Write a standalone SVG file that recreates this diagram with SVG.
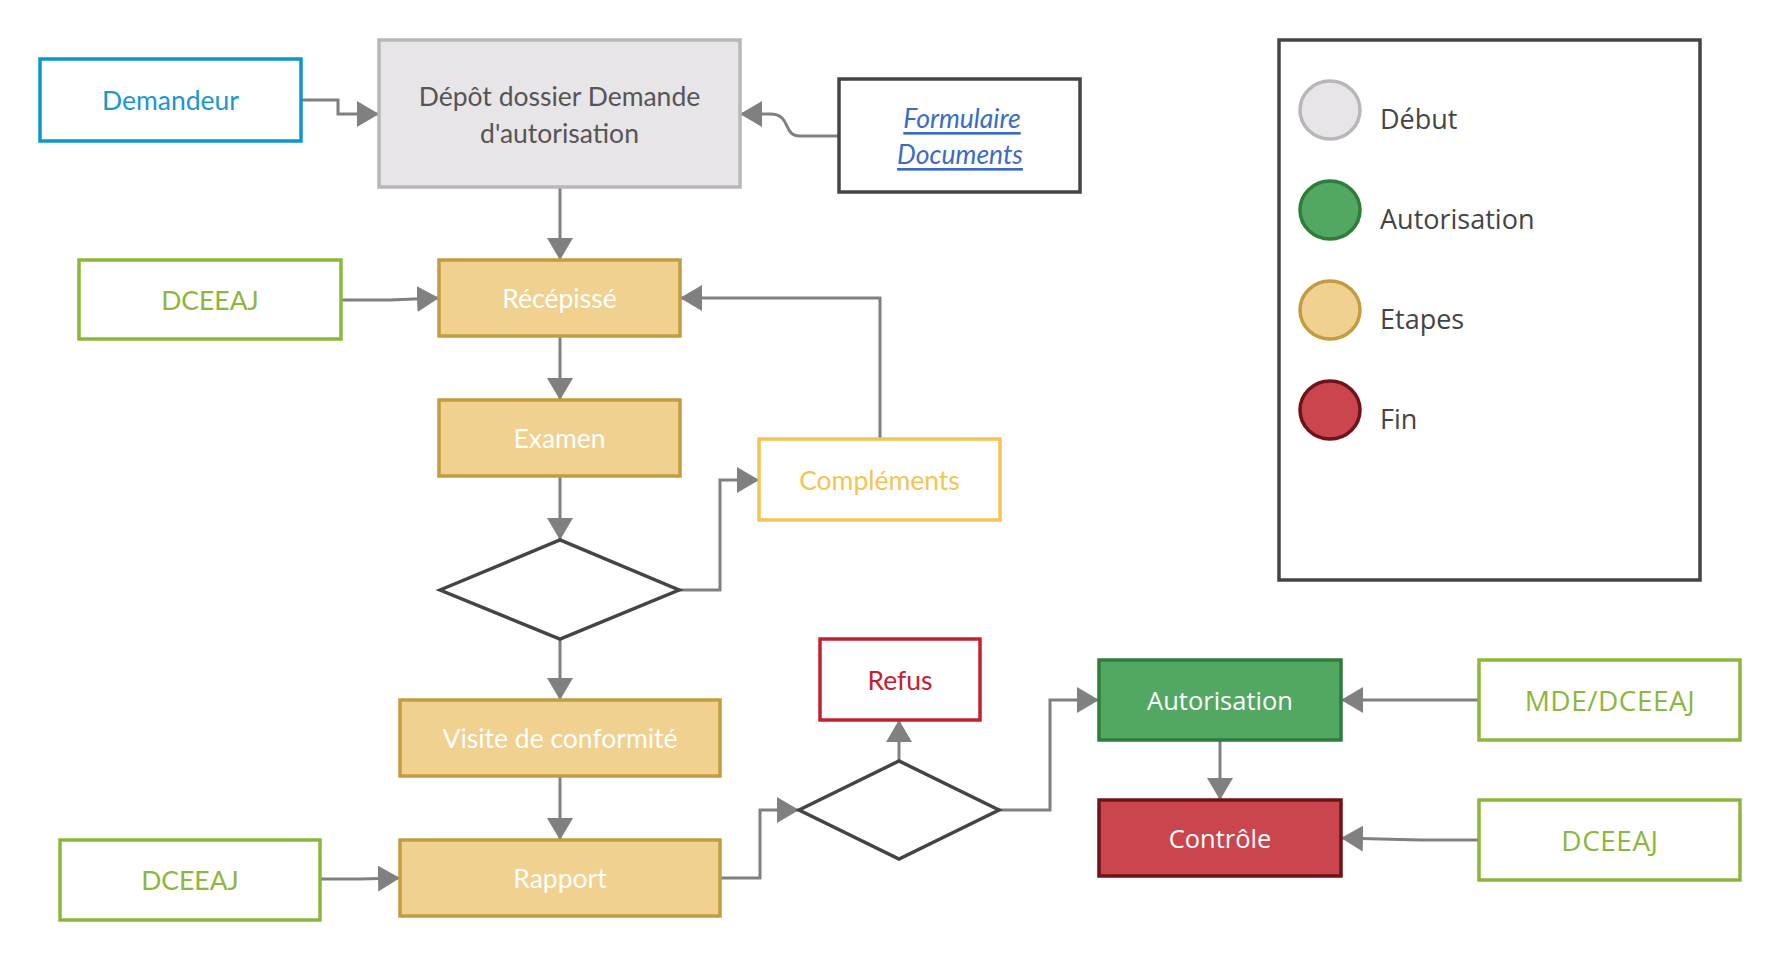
<svg xmlns="http://www.w3.org/2000/svg" width="1780" height="960" viewBox="0 0 1780 960">
<defs>
<marker id="arr" markerUnits="userSpaceOnUse" markerWidth="24" markerHeight="26" refX="22" refY="13" orient="auto">
<path d="M0,0 L22,13 L0,26 Z" fill="#808080"/>
</marker>
<style>
.c{fill:none;stroke:#808080;stroke-width:3;marker-end:url(#arr)}
.t{font-family:Lato,"Liberation Sans",sans-serif;font-size:26.5px;text-anchor:middle;dominant-baseline:central}
.o{font-family:"Open Sans","Liberation Sans",sans-serif;font-size:25.5px;text-anchor:middle;dominant-baseline:central}
.w{font-family:"Open Sans","Liberation Sans",sans-serif;font-size:28px;letter-spacing:0.5px;text-anchor:middle;dominant-baseline:central}
.step{fill:#f0d18f;stroke:#c39c42;stroke-width:3.5}
.green{fill:#fff;stroke:#8db63c;stroke-width:3.5}
.gt{fill:#8db63c}
.wt{fill:#fff}
.lg{font-family:"Open Sans","Liberation Sans",sans-serif;font-size:27px;fill:#444;dominant-baseline:central}
</style>
</defs>
<rect width="1780" height="960" fill="#fff"/>

<g id="connectors">
<path class="c" d="M301,100 H338 V114 H379"/>
<path class="c" d="M839,136 H800 C782,136 792,114 770,114 H740"/>
<path class="c" d="M560,187 V260"/>
<path class="c" d="M341,300 H390 L439,298"/>
<path class="c" d="M880,439 V298 H680"/>
<path class="c" d="M560,336 V400"/>
<path class="c" d="M560,476 V540"/>
<path class="c" d="M679,590 H720 V480 H759"/>
<path class="c" d="M560,639 V700"/>
<path class="c" d="M560,776 V840"/>
<path class="c" d="M320,879 H360 L400,878"/>
<path class="c" d="M720,878 H760 V810 H799"/>
<path class="c" d="M899,761 V720"/>
<path class="c" d="M999,810 H1050 V700 H1099"/>
<path class="c" d="M1479,700 H1341"/>
<path class="c" d="M1220,740 V800"/>
<path class="c" d="M1479,840 H1420 L1341,838"/>
</g>

<g id="demandeur">
<rect x="40" y="59" width="261" height="82" fill="#fff" stroke="#0e95d0" stroke-width="3.5"/>
<text class="t" x="170.5" y="100" fill="#1a96d0">Demandeur</text>
</g>

<g id="depot">
<rect x="379" y="40" width="361" height="147" fill="#e8e5e8" stroke="#b8b6b8" stroke-width="3.5"/>
<text class="t" x="559.5" y="96" fill="#555">Dépôt dossier Demande</text>
<text class="t" x="559.5" y="133" fill="#555">d'autorisation</text>
</g>

<g id="formulaire">
<rect x="839" y="79" width="241" height="113" fill="#fff" stroke="#444" stroke-width="3.5"/>
<text class="t" x="962" y="118" fill="#3b6bc8" font-style="italic" text-decoration="underline">Formulaire </text>
<text class="t" x="960" y="154" fill="#3b6bc8" font-style="italic" text-decoration="underline">Documents</text>
</g>

<g id="dceeaj1">
<rect class="green" x="79" y="260" width="262" height="79"/>
<text class="t gt" x="210" y="300">DCEEAJ</text>
</g>

<g id="recepisse">
<rect class="step" x="439" y="260" width="241" height="76"/>
<text class="t wt" x="559.5" y="298">Récépissé</text>
</g>

<g id="examen">
<rect class="step" x="439" y="400" width="241" height="76"/>
<text class="t wt" x="559.5" y="438">Examen</text>
</g>

<g id="complements">
<rect x="759" y="439" width="241" height="81" fill="#fff" stroke="#f5c452" stroke-width="3.5"/>
<text class="t" x="879.5" y="480" fill="#f5c452">Compléments</text>
</g>

<g id="decision1">
<polygon points="440,590 560,540 679,590 560,639" fill="#fff" stroke="#444" stroke-width="3.5"/>
</g>

<g id="visite">
<rect class="step" x="400" y="700" width="320" height="76"/>
<text class="t wt" x="560" y="738">Visite de conformité</text>
</g>

<g id="rapport">
<rect class="step" x="400" y="840" width="320" height="76"/>
<text class="t wt" x="560" y="878">Rapport</text>
</g>

<g id="dceeaj2">
<rect class="green" x="60" y="840" width="260" height="80"/>
<text class="t gt" x="190" y="880">DCEEAJ</text>
</g>

<g id="refus">
<rect x="820" y="639" width="160" height="81" fill="#fff" stroke="#c4202f" stroke-width="3.5"/>
<text class="t" x="900" y="680" fill="#c4202f">Refus</text>
</g>

<g id="decision2">
<polygon points="799,810 899,761 999,810 899,859" fill="#fff" stroke="#444" stroke-width="3.5"/>
</g>

<g id="autorisation">
<rect x="1099" y="660" width="242" height="80" fill="#52a862" stroke="#2e7d3a" stroke-width="3.5"/>
<text class="o wt" x="1220" y="700">Autorisation</text>
</g>

<g id="controle">
<rect x="1099" y="800" width="242" height="76" fill="#cb454e" stroke="#6e1418" stroke-width="3.5"/>
<text class="o wt" x="1220" y="838">Contrôle</text>
</g>

<g id="mde">
<rect class="green" x="1479" y="660" width="261" height="80"/>
<text class="w gt" x="1610" y="700">MDE/DCEEAJ</text>
</g>

<g id="dceeaj3">
<rect class="green" x="1479" y="800" width="261" height="80"/>
<text class="w gt" x="1610" y="840">DCEEAJ</text>
</g>

<g id="legend">
<rect x="1279" y="40" width="421" height="540" fill="#fff" stroke="#444" stroke-width="3.5"/>
<ellipse cx="1330" cy="110" rx="30" ry="29" fill="#e8e5e8" stroke="#b8b6b8" stroke-width="3.5"/>
<text class="lg" x="1380" y="118">Début</text>
<ellipse cx="1330" cy="210" rx="30" ry="29" fill="#52a862" stroke="#2e7d3a" stroke-width="3.5"/>
<text class="lg" x="1380" y="218">Autorisation</text>
<ellipse cx="1330" cy="310" rx="30" ry="29" fill="#f0d18f" stroke="#c39c42" stroke-width="3.5"/>
<text class="lg" x="1380" y="318">Etapes</text>
<ellipse cx="1330" cy="410" rx="30" ry="29" fill="#cb454e" stroke="#6e1418" stroke-width="3.5"/>
<text class="lg" x="1380" y="418">Fin</text>
</g>
</svg>
